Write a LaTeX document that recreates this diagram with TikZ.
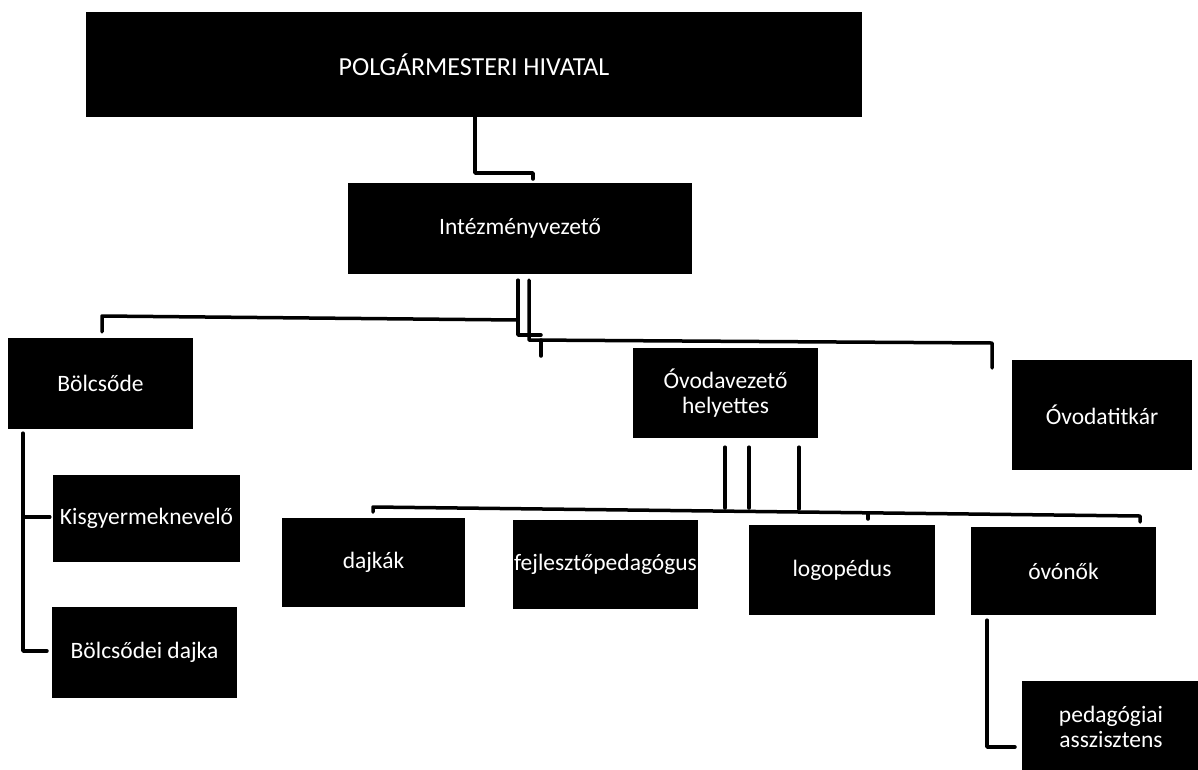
\documentclass[tikz,border=0pt]{standalone}
\usepackage{fontspec}
\setmainfont{Carlito}
\begin{document}
\begin{tikzpicture}[x=1pt,y=-1pt,
  orgbox/.style={fill=black, text=white, inner sep=0pt, align=center,
    font=\fontsize{23.5}{25}\selectfont},
  conn/.style={line width=3.5pt, line cap=round, line join=round}]
\useasboundingbox (0,0) rectangle (1198,769);
\fill[white] (0,0) rectangle (1198,769);

% boxes
\node[orgbox, minimum width=776pt, minimum height=105pt, font=\fontsize{26}{28}\selectfont] (polg) at (474,64.5) {POLGÁRMESTERI HIVATAL};
\node[orgbox, minimum width=344pt, minimum height=91pt] (intez) at (520,228.5) {Intézményvezető};
\node[orgbox, minimum width=185pt, minimum height=91pt] (bolcs) at (100.5,383.5) {Bölcsőde};
\node[orgbox, minimum width=185pt, minimum height=90pt] (ovhely) at (725.5,393) {Óvodavezető\\helyettes};
\node[orgbox, minimum width=180pt, minimum height=110pt] (titkar) at (1102,415) {Óvodatitkár};
\node[orgbox, minimum width=187pt, minimum height=87pt] (kisgy) at (146.5,518.5) {Kisgyermeknevelő};
\node[orgbox, minimum width=185pt, minimum height=91pt] (bdajka) at (144.5,652.5) {Bölcsődei dajka};
\node[orgbox, minimum width=183pt, minimum height=89pt] (dajkak) at (373.5,562) {dajkák};
\node[orgbox, minimum width=185pt, minimum height=89pt] (fejl) at (605.5,564) {fejlesztőpedagógus};
\node[orgbox, minimum width=186pt, minimum height=90pt] (logo) at (842,570) {logopédus};
\node[orgbox, minimum width=185pt, minimum height=88pt] (ovonok) at (1063.5,571) {óvónők};
\node[orgbox, minimum width=178pt, minimum height=92pt] (pedas) at (1111,727) {pedagógiai\\asszisztens};

% connector points
\coordinate (p1) at (475,173);
\coordinate (p2) at (533,173);
\coordinate (p2e) at (533,179);
\coordinate (a1) at (518,335);
\coordinate (a2) at (541,335);
\coordinate (aj) at (518,320);
\coordinate (b1) at (102,316);
\coordinate (c1) at (529,340);
\coordinate (c2) at (992,343);
\coordinate (c3) at (992,368);
\coordinate (k1) at (541,340);
\coordinate (k2) at (541,356);
\coordinate (t1) at (23,651);
\coordinate (t2) at (47,651);
\coordinate (t3) at (23,517);
\coordinate (v1) at (725,508);
\coordinate (v2) at (749,508);
\coordinate (v3) at (799,509);
\coordinate (h0) at (373,512);
\coordinate (h1) at (373,507);
\coordinate (h2) at (1140,516);
\coordinate (h3) at (1140,522);
\coordinate (l1) at (868,513);
\coordinate (l2) at (868,519);
\coordinate (o1) at (987,747);
\coordinate (o2) at (1015,747);

% connectors
\draw[conn] (polg.south -| p1) -- (p1) -- (p2) -- (p2e);
\draw[conn] ([yshift=-6pt]intez.south -| a1) -- (a1) -- (a2);
\draw[conn] (aj) -- (b1) -- ([yshift=6pt]bolcs.north -| b1);
\draw[conn] ([yshift=-6pt]intez.south -| c1) -- (c1) -- (c2) -- (c3);
\draw[conn] (k1) -- (k2);
\draw[conn] ([yshift=-4pt]bolcs.south -| t1) -- (t1) -- (t2);
\draw[conn] (t3) -- ([xshift=-3pt]kisgy.west |- t3);
\draw[conn] ([yshift=-9pt]ovhely.south -| v1) -- (v1);
\draw[conn] ([yshift=-9pt]ovhely.south -| v2) -- (v2);
\draw[conn] ([yshift=-9pt]ovhely.south -| v3) -- (v3);
\draw[conn] (h0) -- (h1) -- (h2) -- (h3);
\draw[conn] (l1) -- (l2);
\draw[conn] ([yshift=-5pt]ovonok.south -| o1) -- (o1) -- (o2);
\end{tikzpicture}
\end{document}
